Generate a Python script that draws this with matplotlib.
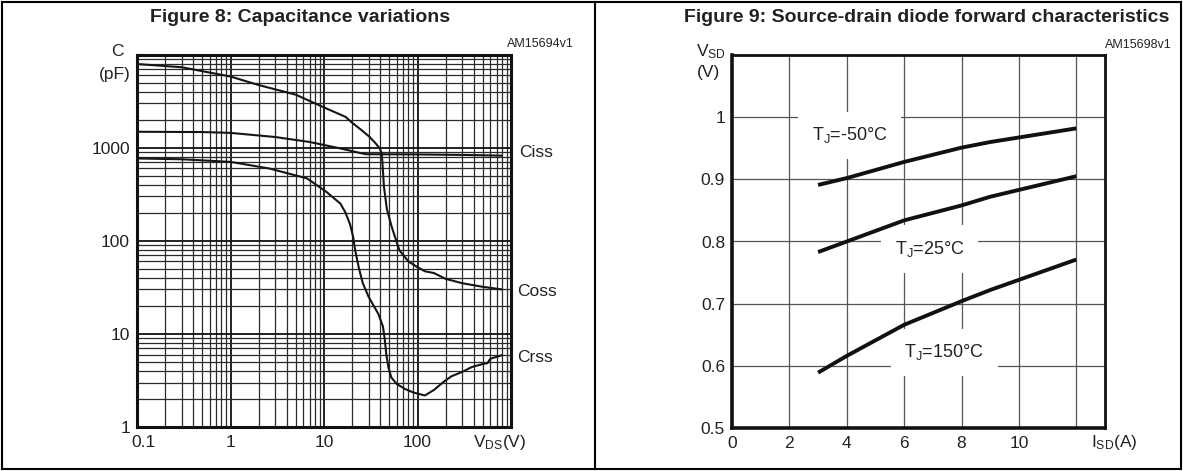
import numpy as np
import matplotlib
matplotlib.use("Agg")
import matplotlib.pyplot as plt
from matplotlib.lines import Line2D
from matplotlib.ticker import LogLocator, NullFormatter
from matplotlib.transforms import ScaledTranslation

# Figure 8 - capacitance vs VDS
coss_v = [0.1, 0.3, 1, 2, 5, 10, 17, 19.5, 25, 30.7, 36, 39.4, 41.5, 43.8, 47, 53, 64, 80, 100, 120, 150, 200, 300, 500, 800]
coss_pf = [7900, 7300, 5800, 4700, 3700, 2700, 2140, 1890, 1550, 1306, 1100, 980, 870, 378, 220, 141, 79, 60, 52, 47, 45, 39, 35, 32, 30]

ciss_v = [0.1, 0.5, 1, 3, 7, 15, 25, 28, 100, 300, 800]
ciss_pf = [1480, 1470, 1440, 1300, 1150, 980, 870, 850, 845, 835, 820]

crss_v = [0.1, 0.3, 1, 2.6, 6.6, 10.6, 15, 17, 19, 20.5, 21.5, 23.7, 26, 30, 34, 38, 42.7, 44.5,
          46.4, 49, 52.5, 60, 73, 90, 120, 150, 190, 230, 300, 380, 500, 560, 600, 800]
crss_pf = [765, 750, 703, 597, 467, 335, 250, 200, 150, 110, 80, 50, 35, 25, 20, 16.5, 12, 9,
           6, 4.3, 3.4, 2.9, 2.57, 2.35, 2.18, 2.5, 3.05, 3.5, 3.9, 4.4, 4.75, 4.85, 5.4, 5.9]

cap_xticks = [0.1, 1, 10, 100]
cap_xlabels = ["0.1", "1", "10", "100"]
cap_yticks = [1, 10, 100, 1000]
cap_ylabels = ["1", "10", "100", "1000"]

# Figure 9 - source-drain diode forward voltage
isd_a = [3, 4, 6, 8, 9, 12]
vsd_m50 = [0.891, 0.902, 0.928, 0.951, 0.960, 0.982]
vsd_25 = [0.783, 0.800, 0.834, 0.858, 0.872, 0.905]
vsd_150 = [0.589, 0.616, 0.666, 0.704, 0.722, 0.771]

diode_xticks = [0, 2, 4, 6, 8, 10, 12]
diode_xlabels = ["0", "2", "4", "6", "8", "10", ""]
diode_yticks = [0.5, 0.6, 0.7, 0.8, 0.9, 1.0]
diode_ylabels = ["0.5", "0.6", "0.7", "0.8", "0.9", "1"]

FONT = "Liberation Sans"
plt.rcParams["font.family"] = [FONT, "DejaVu Sans"]
plt.rcParams["mathtext.fontset"] = "custom"
plt.rcParams["mathtext.rm"] = FONT
plt.rcParams["mathtext.it"] = FONT
plt.rcParams["mathtext.default"] = "regular"

W, H = 1183, 471
TXT = "#222222"
FS = 12.5  # tick labels / curve labels


def fx(px):
    return px / W


def fy(py):
    return 1 - py / H


fig = plt.figure(figsize=(W / 100, H / 100), dpi=100)
fig.patch.set_facecolor("white")

# panel borders
for xs, ys in [((2, 1181), (2, 2)), ((2, 1181), (469, 469)), ((2, 2), (2, 469)),
               ((1181, 1181), (2, 469)), ((595, 595), (2, 469))]:
    fig.add_artist(Line2D([fx(x) for x in xs], [fy(y) for y in ys], color="black", lw=1.5))

# ---------------- Figure 8 ----------------
fig.text(fx(300), fy(17), "Figure 8: Capacitance variations", ha="center", va="center",
         fontsize=14, fontweight="bold", color=TXT)
fig.text(fx(574), fy(44), "AM15694v1", ha="right", va="center", fontsize=9, color=TXT)

ax1 = fig.add_axes([fx(137), fy(427), 374 / W, 372.5 / H])
ax1.set_xscale("log")
ax1.set_yscale("log")
ax1.plot(coss_v, coss_pf, color="#151515", lw=1.5, zorder=4)
ax1.plot(ciss_v, ciss_pf, color="#151515", lw=1.5, zorder=4)
ax1.plot(crss_v, crss_pf, color="#151515", lw=1.5, zorder=4)
ax1.set_xlim(0.1, 1000)
ax1.set_ylim(1, 10000)
ax1.set_xticks(cap_xticks)
ax1.set_xticklabels(cap_xlabels)
ax1.set_yticks(cap_yticks)
ax1.set_yticklabels(cap_ylabels)
for axis in (ax1.xaxis, ax1.yaxis):
    axis.set_minor_locator(LogLocator(base=10, subs=np.arange(2, 10)))
    axis.set_minor_formatter(NullFormatter())
ax1.grid(which="major", color="#111111", lw=1.3)
ax1.grid(which="minor", color="#2a2a2a", lw=0.9)
ax1.tick_params(which="both", length=0, labelsize=FS, labelcolor=TXT)
ax1.tick_params(axis="y", pad=5)
ax1.tick_params(axis="x", pad=6)
for sp in ax1.spines.values():
    sp.set_linewidth(2.2)
    sp.set_color("#111111")
lab0 = ax1.get_xticklabels()[0]
lab0.set_transform(lab0.get_transform() + ScaledTranslation(7 / 100, 0, fig.dpi_scale_trans))

fig.text(fx(117), fy(52), "C", ha="center", va="center", fontsize=FS, color=TXT)
fig.text(fx(115), fy(75), "(pF)", ha="center", va="center", fontsize=FS, color=TXT)
fig.text(fx(500), fy(443), r"V$_{DS}$(V)", ha="center", va="center", fontsize=FS, color=TXT)
fig.text(fx(519), fy(153), "Ciss", ha="left", va="center", fontsize=FS, color=TXT)
fig.text(fx(517), fy(292), "Coss", ha="left", va="center", fontsize=FS, color=TXT)
fig.text(fx(517), fy(357), "Crss", ha="left", va="center", fontsize=FS, color=TXT)

# ---------------- Figure 9 ----------------
fig.text(fx(927), fy(17), "Figure 9: Source-drain diode forward characteristics", ha="center",
         va="center", fontsize=14, fontweight="bold", color=TXT)
fig.text(fx(1172), fy(45), "AM15698v1", ha="right", va="center", fontsize=9, color=TXT)

ax2 = fig.add_axes([fx(732), fy(428), 373 / W, 373 / H])
ax2.plot(isd_a, vsd_m50, color="#111111", lw=2.8, zorder=4, solid_capstyle="butt")
ax2.plot(isd_a, vsd_25, color="#111111", lw=2.8, zorder=4, solid_capstyle="butt")
ax2.plot(isd_a, vsd_150, color="#111111", lw=2.8, zorder=4, solid_capstyle="butt")
ax2.set_xlim(0, 13)
ax2.set_ylim(0.5, 1.1)
ax2.set_xticks(diode_xticks)
ax2.set_xticklabels(diode_xlabels)
ax2.set_yticks(diode_yticks)
ax2.set_yticklabels(diode_ylabels)
ax2.grid(color="#555555", lw=0.9)
ax2.tick_params(length=0, labelsize=FS, labelcolor=TXT)
ax2.tick_params(axis="y", pad=5)
ax2.tick_params(axis="x", pad=6)
for name, sp in ax2.spines.items():
    sp.set_linewidth(2.6 if name in ("left", "bottom") else 2.0)
    sp.set_color("#111111")

box = dict(boxstyle="square,pad=0.75", fc="white", ec="none")
ax2.text(4.1, 0.971, r"T$_J$=-50°C", ha="center", va="center", fontsize=13, color=TXT, bbox=box, zorder=3)
ax2.text(6.9, 0.788, r"T$_J$=25°C", ha="center", va="center", fontsize=13, color=TXT, bbox=box, zorder=3)
ax2.text(7.4, 0.622, r"T$_J$=150°C", ha="center", va="center", fontsize=13, color=TXT, bbox=box, zorder=3)

fig.text(fx(711), fy(52), r"V$_{SD}$", ha="center", va="center", fontsize=FS, color=TXT)
fig.text(fx(708), fy(73), "(V)", ha="center", va="center", fontsize=FS, color=TXT)
fig.text(fx(1114), fy(443), r"I$_{SD}$(A)", ha="center", va="center", fontsize=FS, color=TXT)

fig.savefig("out.png", dpi=100, facecolor="white")
